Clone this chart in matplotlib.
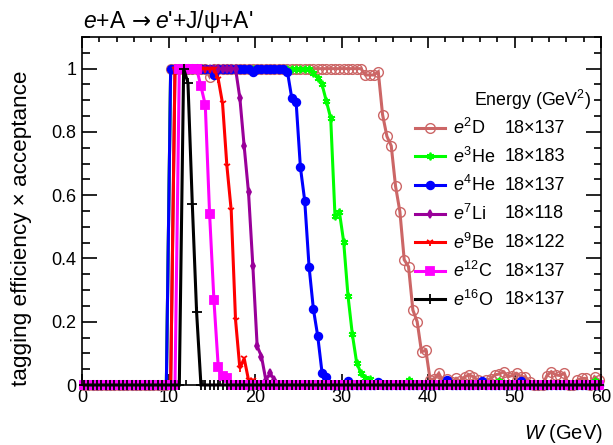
import matplotlib

matplotlib.use("Agg")
import matplotlib.pyplot as plt
import numpy as np
from matplotlib.ticker import FuncFormatter, MultipleLocator

plt.rcParams["font.family"] = ["Liberation Sans", "DejaVu Sans"]
plt.rcParams["mathtext.fontset"] = "custom"
plt.rcParams["mathtext.rm"] = "Liberation Sans"
plt.rcParams["mathtext.it"] = "Liberation Sans:italic"

# W bin centres (GeV), bins are 0.5 GeV wide
w_bins = np.arange(0.25, 60.0, 0.5)

# efficiency x acceptance per nucleus, one value per W bin
eff_d = (
    [0.0] * 20
    + [1.0] * 9 + [0.975] + [1.0] * 35
    + [0.98, 0.98, 0.98, 0.99, 0.854, 0.786, 0.756, 0.628, 0.548, 0.396,
       0.374, 0.237, 0.2, 0.105, 0.11, 0.016]
    + [0.02, 0.037, 0.01, 0.018, 0.008, 0.021, 0.012, 0.026, 0.032, 0.026,
       0.016, 0.005, 0.016, 0.02, 0.032, 0.035, 0.042, 0.026, 0.03, 0.037,
       0.026, 0.026, 0.01, 0.0, 0.0, 0.0, 0.03, 0.042, 0.032, 0.03,
       0.037, 0.0, 0.0, 0.015, 0.021, 0.021, 0.0, 0.026, 0.015]
)
eff_he3 = (
    [0.0] * 20
    + [1.0] * 33
    + [0.986, 0.97, 0.95, 0.897, 0.844, 0.533, 0.548, 0.453, 0.282, 0.161,
       0.071, 0.037, 0.021, 0.018]
    + [0.0] * 8 + [0.016] + [0.0] * 20 + [0.012] + [0.0] * 21 + [0.012, 0.0]
)
eff_he4 = (
    [0.0] * 20
    + [1.0] * 10 + [0.98] + [1.0] * 8 + [0.99] + [1.0] * 7
    + [0.99, 0.907, 0.896, 0.688, 0.582, 0.374, 0.24, 0.155, 0.039, 0.026]
    + [0.0] * 4 + [0.014] + [0.0] * 6 + [0.01] + [0.0] * 15 + [0.015]
    + [0.0] * 7 + [0.013] + [0.0] * 8 + [0.013] + [0.0] * 18
)
eff_li7 = (
    [0.0] * 21
    + [1.0] * 15
    + [0.907, 0.754, 0.609, 0.377, 0.123, 0.09, 0.016, 0.037, 0.016]
    + [0.0] * 75
)
eff_be9 = (
    [0.0] * 21
    + [1.0] * 10
    + [0.967, 0.89, 0.693, 0.552, 0.206, 0.053, 0.084, 0.016, 0.015]
    + [0.0] * 80
)
eff_c12 = (
    [0.0] * 22
    + [1.0] * 5
    + [0.944, 0.886, 0.541, 0.269, 0.058, 0.028, 0.021]
    + [0.0] * 86
)
eff_o16 = (
    [0.0] * 23
    + [1.0, 0.955, 0.573, 0.23]
    + [0.0] * 93
)

nuclei = ["$e^{2}$D", "$e^{3}$He", "$e^{4}$He", "$e^{7}$Li",
          "$e^{9}$Be", "$e^{12}$C", "$e^{16}$O"]
energies = ["18\u00d7137", "18\u00d7183", "18\u00d7137", "18\u00d7118",
            "18\u00d7122", "18\u00d7137", "18\u00d7137"]
series = [eff_d, eff_he3, eff_he4, eff_li7, eff_be9, eff_c12, eff_o16]
for values in series:
    assert len(values) == len(w_bins)

colors = ["#cc6666", "#00ff00", "#0000ff", "#990099", "#ff0000", "#ff00ff", "#000000"]
markers = ["o", (6, 2, 0), "o", "d", "1", "s", "+"]
marker_sizes = [7.0, 5.5, 5.5, 4.0, 6.0, 5.5, 6.5]

fig = plt.figure(figsize=(6.13, 4.45), dpi=100)
ax = fig.add_axes([82 / 613, 60 / 445, 519 / 613, 348 / 445])

for values, label, color, marker, size in zip(series, nuclei, colors, markers, marker_sizes):
    hollow = label == "$e^{2}$D"
    ax.plot(
        w_bins, values,
        color=color, linewidth=2.2, solid_joinstyle="miter",
        marker=marker, markersize=size,
        markerfacecolor="none" if hollow else color,
        markeredgecolor=color,
        markeredgewidth=1.0 if hollow else 1.3,
        clip_on=False, label=label,
    )

ax.set_xlim(0, 60)
ax.set_ylim(0, 1.1)
ax.xaxis.set_major_locator(MultipleLocator(10))
ax.xaxis.set_minor_locator(MultipleLocator(2))
ax.yaxis.set_major_locator(MultipleLocator(0.2))
ax.yaxis.set_minor_locator(MultipleLocator(0.05))
ax.yaxis.set_major_formatter(FuncFormatter(lambda v, _: f"{v:g}"))
ax.tick_params(which="both", direction="in", top=True, right=True, width=1.2,
               labelsize=13)
ax.tick_params(axis="y", which="major", length=10.8, pad=4)
ax.tick_params(axis="y", which="minor", length=5.4)
ax.tick_params(axis="x", which="major", length=7.6, pad=3)
ax.tick_params(axis="x", which="minor", length=3.8)
for spine in ax.spines.values():
    spine.set_linewidth(1.2)

legend = ax.legend(
    loc="upper left", bbox_to_anchor=(0.6416, 0.767), frameon=False,
    fontsize=13, handlelength=1.67, handletextpad=0.45, labelspacing=0.47,
    borderpad=0, borderaxespad=0, numpoints=1,
)
fig.canvas.draw()
renderer = fig.canvas.get_renderer()
to_axes = ax.transAxes.inverted()
for text, energy in zip(legend.get_texts(), energies):
    box = text.get_window_extent(renderer)
    _, y_mid = to_axes.transform((box.x0, 0.5 * (box.y0 + box.y1)))
    ax.text(0.815, y_mid, energy, fontsize=13, ha="left", va="center",
            transform=ax.transAxes)

ax.text(0.9807, 0.819, "Energy (GeV$^{2}$)", fontsize=12.8, ha="right", va="center",
        transform=ax.transAxes)

# title pieces chained left to right so the arrow can come from DejaVu Sans
to_fig = fig.transFigure.inverted()
title_x = 83 / 613
title_y = 1 - 28 / 445
for piece, family in [("$e$+A", None), ("\u2192", "DejaVu Sans"),
                      ("$e$'+J/\u03c8+A'", None)]:
    kwargs = {"family": family} if family else {}
    part = fig.text(title_x, title_y, piece, fontsize=16.5, ha="left",
                    va="baseline", **kwargs)
    box = part.get_window_extent(renderer)
    title_x = to_fig.transform((box.x1 + 5, 0))[0]

fig.text(22 / 613, 1 - 228 / 445, "tagging efficiency \u00d7 acceptance", fontsize=16.2,
         rotation=90, ha="center", va="center")
fig.text(603 / 613, 1 - 439 / 445, "$W$ (GeV)", fontsize=14.5, ha="right", va="baseline")

fig.savefig("out.png", dpi=100)
